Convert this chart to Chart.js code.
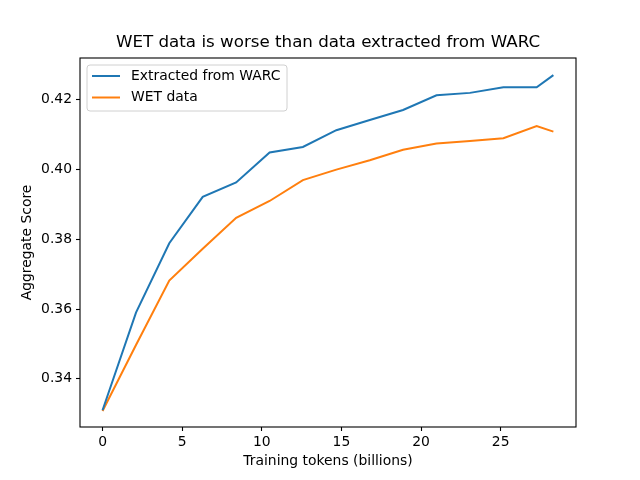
<!DOCTYPE html>
<html>
<head>
<meta charset="utf-8">
<script src="https://cdn.jsdelivr.net/npm/chart.js@4.4.0/dist/chart.umd.min.js"></script>
<style>
  body { margin: 0; background: #fff; }
  #wrap { width: 640px; height: 480px; }
</style>
</head>
<body>
<div id="wrap"><canvas id="lineChart" width="640" height="480"></canvas></div>
<script>
// training tokens (billions) at each checkpoint
const tokens = [0, 2.1, 4.19, 6.29, 8.39, 10.49, 12.58, 14.68, 16.78, 18.87, 20.97, 23.07, 25.17, 27.26, 28.31];
// aggregate scores
const warcScores = [0.3310, 0.3590, 0.3789, 0.3922, 0.3963, 0.4049, 0.4065, 0.4113, 0.4142, 0.4171, 0.4213, 0.4220, 0.4236, 0.4236, 0.4271];
const wetScores = [0.3308, 0.3497, 0.3682, 0.3773, 0.3862, 0.3910, 0.3970, 0.4000, 0.4027, 0.4057, 0.4075, 0.4082, 0.4090, 0.4125, 0.4109];
const xTicks = [0, 5, 10, 15, 20, 25];
const yTicks = [0.34, 0.36, 0.38, 0.40, 0.42];

const FONT = 'DejaVu Sans';
const toPoints = (ys) => ys.map((y, i) => ({ x: tokens[i], y: y }));

// white background, frame, title and legend like matplotlib
const mplStyle = {
    id: 'mplStyle',
    beforeDraw(chart) {
        const c = chart.ctx;
        c.save();
        c.fillStyle = '#fff';
        c.fillRect(0, 0, chart.width, chart.height);
        c.restore();
    },
    afterDraw(chart) {
        const c = chart.ctx;
        const a = chart.chartArea;
        c.save();
        // axes frame
        c.strokeStyle = '#000';
        c.lineWidth = 1.1;
        c.strokeRect(a.left, a.top, a.right - a.left, a.bottom - a.top);

        // title
        c.fillStyle = '#000';
        c.font = '16.7px "' + FONT + '"';
        c.textAlign = 'center';
        c.textBaseline = 'middle';
        c.fillText('WET data is worse than data extracted from WARC', (a.left + a.right) / 2, 43);

        // legend
        const lx = a.left + 7, ly = a.top + 7, lw = 200, lh = 46;
        c.beginPath();
        c.roundRect(lx, ly, lw, lh, 3);
        c.fillStyle = 'rgba(255,255,255,0.8)';
        c.fill();
        c.strokeStyle = '#d0d0d0';
        c.lineWidth = 1;
        c.stroke();
        c.font = '13.9px "' + FONT + '"';
        c.textAlign = 'left';
        chart.data.datasets.forEach((ds, i) => {
            const y = ly + 11 + i * 21.5;
            c.strokeStyle = ds.borderColor;
            c.lineWidth = 2;
            c.beginPath();
            c.moveTo(lx + 5, y);
            c.lineTo(lx + 33, y);
            c.stroke();
            c.fillStyle = '#000';
            c.fillText(ds.label, lx + 44, y);
        });
        c.restore();
    }
};

const ctx = document.getElementById('lineChart').getContext('2d');

new Chart(ctx, {
    type: 'line',
    data: {
        datasets: [{
            label: 'Extracted from WARC',
            data: toPoints(warcScores),
            borderColor: '#1f77b4',
            borderWidth: 2,
            pointRadius: 0,
            tension: 0
        }, {
            label: 'WET data',
            data: toPoints(wetScores),
            borderColor: '#ff7f0e',
            borderWidth: 2,
            pointRadius: 0,
            tension: 0
        }]
    },
    options: {
        responsive: false,
        animation: false,
        layout: { padding: { top: 58, right: 64, left: 0, bottom: 0 } },
        plugins: {
            legend: { display: false },
            title: { display: false },
            tooltip: { enabled: false }
        },
        scales: {
            x: {
                type: 'linear',
                min: -1.416,
                max: 29.73,
                afterBuildTicks: (s) => { s.ticks = xTicks.map(v => ({ value: v })); },
                afterFit: (s) => { s.height = 53; },
                grid: { drawOnChartArea: false, drawTicks: true, tickLength: 4, tickColor: '#000', tickWidth: 1.1 },
                border: { display: false },
                ticks: {
                    color: '#000', padding: 3, maxRotation: 0,
                    font: { family: FONT, size: 13.9 }
                },
                title: {
                    display: true, text: 'Training tokens (billions)', color: '#000',
                    font: { family: FONT, size: 13.9 }, padding: { top: 10, bottom: 10 }
                }
            },
            y: {
                min: 0.3262,
                max: 0.4320,
                afterBuildTicks: (s) => { s.ticks = yTicks.map(v => ({ value: v })); },
                afterFit: (s) => { s.width = 80; },
                grid: { drawOnChartArea: false, drawTicks: true, tickLength: 4, tickColor: '#000', tickWidth: 1.1 },
                border: { display: false },
                ticks: {
                    color: '#000', padding: 4,
                    font: { family: FONT, size: 13.9 },
                    callback: (v) => Number(v).toFixed(2)
                },
                title: {
                    display: true, text: 'Aggregate Score', color: '#000',
                    font: { family: FONT, size: 13.9 }, padding: { top: 19, bottom: 19 }
                }
            }
        }
    },
    plugins: [mplStyle]
});
</script>
</body>
</html>
